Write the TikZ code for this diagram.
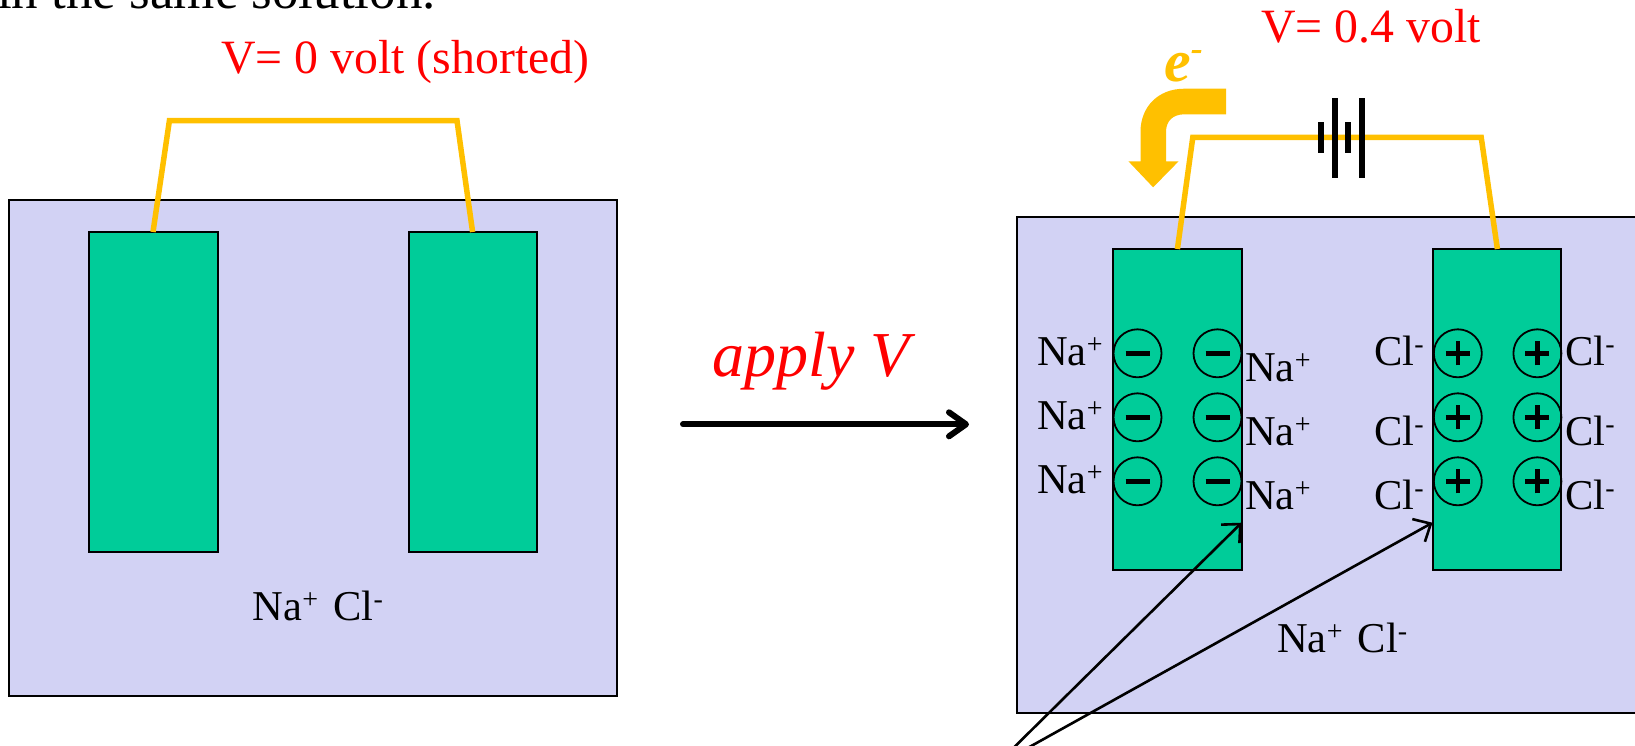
\documentclass[tikz,border=0pt]{standalone}
\usepackage{fontspec}
\setmainfont{Liberation Serif}
\usetikzlibrary{arrows.meta}
\definecolor{soln}{HTML}{D2D2F4}
\definecolor{elec}{HTML}{00CC99}
\definecolor{wirec}{HTML}{FFC000}
\newcommand{\ionNa}{Na\raisebox{12pt}{\fontsize{28}{30}\selectfont +}}
\newcommand{\ionCl}{Cl\raisebox{12pt}{\fontsize{28}{30}\selectfont -}}
\tikzset{
  boxsoln/.style={draw=black,fill=soln,line width=2pt},
  boxelec/.style={draw=black,fill=elec,line width=2pt},
  wire/.style={draw=wirec,line width=5.5pt,line join=miter},
  batt/.style={fill=black,draw=none},
  redtext/.style={text=red,anchor=base west,inner sep=0pt,font=\fontsize{47.8}{50}\selectfont},
  ion/.style={anchor=base west,inner sep=0pt,font=\fontsize{42.5}{44}\selectfont},
  negdisc/.style={circle,draw=black,line width=1.8pt,minimum size=48pt,inner sep=0pt,
    path picture={\draw[line width=4.5pt] ([xshift=-12pt]path picture bounding box.center) -- ([xshift=12pt]path picture bounding box.center);}},
  posdisc/.style={circle,draw=black,line width=1.8pt,minimum size=48pt,inner sep=0pt,
    path picture={\draw[line width=4.5pt] ([xshift=-12pt]path picture bounding box.center) -- ([xshift=12pt]path picture bounding box.center);
      \draw[line width=4.5pt] ([yshift=-12pt]path picture bounding box.center) -- ([yshift=12pt]path picture bounding box.center);}},
  pointer/.style={draw=black,line width=2.6pt,-{Straight Barb[length=14pt,width=26pt,line width=2.6pt]}},
  bigarrow/.style={draw=black,line width=6pt,line cap=round,-{Straight Barb[round,length=17pt,width=24pt,line width=6pt]}}
}
\begin{document}
\begin{tikzpicture}[x=1pt,y=-1pt]
\useasboundingbox (0,0) rectangle (1635,745);
\clip (0,0) rectangle (1635,745);
\node[anchor=base west,inner sep=0pt,font=\fontsize{53}{56}\selectfont] (head) at (-3,8) {in the same solution.};
% left cell
\path[boxsoln] (9.4,200) rectangle (617,696);
\coordinate (lfoot) at (153,232);
\coordinate (ltopa) at (169.4,120.7);
\coordinate (ltopb) at (457,120.7);
\coordinate (rfoot) at (472.6,232);
\path[boxelec] (89,232) rectangle (217.5,552);
\path[boxelec] (409.4,232) rectangle (537,552);
\draw[wire] (lfoot) -- (ltopa) -- (ltopb) -- (rfoot);
\node[redtext] (vzero) at (221,73.2) {V= 0 volt (shorted)};
\node[ion] (saltl) at (252.7,620.5) {\ionNa\hspace{4.5pt} \ionCl};
% middle
\node[anchor=base west,inner sep=0pt,text=red,font=\fontsize{64}{68}\selectfont\itshape] (apply) at (712,376.5) {apply V};
\coordinate (ma) at (683,424.3);
\coordinate (mb) at (969,424.3);
\draw[bigarrow] (ma) -- (mb);
% right cell
\path[boxsoln] (1017,217.3) rectangle (1650,713.3);
\path[boxelec] (1113.4,249) rectangle (1241.5,570);
\path[boxelec] (1433.4,249) rectangle (1561.3,570);
\coordinate (r1) at (1177.4,249);
\coordinate (r2) at (1192.8,137.3);
\coordinate (r3) at (1481.2,137.3);
\coordinate (r4) at (1497.4,249);
\draw[wire] (r1) -- (r2) -- (r3) -- (r4);
\foreach \n/\bx/\by/\bh in {b1/1321.2/121.7/31.6,b2/1335/97.7/80,b3/1348.3/121.7/31.6,b4/1362/97.7/80}
  \path[batt] (\bx-3,\by) rectangle ++(6,\bh);
\node[redtext] (vfour) at (1261,42.8) {V= 0.4 volt};
\node[anchor=base west,inner sep=0pt,text=wirec,font=\fontsize{60}{62}\selectfont\bfseries\itshape] (elab) at (1164,81.7) {e\raisebox{21pt}{\fontsize{36}{38}\selectfont -}};
\fill[wirec] (1226,88.7) -- (1184.3,88.7) .. controls (1158,88.7) and (1140.5,107) .. (1140.5,131.7)
  -- (1140.5,161.3) -- (1128.4,161.3) -- (1153.1,187.3) -- (1178.6,161.3) -- (1166,161.3) -- (1166,131.7)
  .. controls (1166,121) and (1173,114.3) .. (1184.3,114.3) -- (1226,114.3) -- cycle;
\foreach \col/\cx in {a/1137.5,b/1217.5}
  \foreach \row/\cy in {1/353.3,2/417.3,3/481.3}
    \node[negdisc] (n\col\row) at (\cx,\cy) {};
\foreach \col/\cx in {a/1457.8,b/1537.4}
  \foreach \row/\cy in {1/353.3,2/417.3,3/481.3}
    \node[posdisc] (p\col\row) at (\cx,\cy) {};
\foreach \i/\y in {1/365,2/429,3/493}
  \node[ion] (nal\i) at (1037,\y) {\ionNa};
\foreach \i/\y in {1/381,2/445,3/509}
  \node[ion] (nar\i) at (1245,\y) {\ionNa};
\foreach \i/\y in {1/365,2/445,3/509} {
  \node[ion] (cll\i) at (1374,\y) {\ionCl};
  \node[ion] (clr\i) at (1565,\y) {\ionCl};
}
\node[ion] (saltr) at (1277,652.7) {\ionNa\hspace{4.5pt} \ionCl};
\coordinate (tipa) at (1241.6,522.7);
\coordinate (tipb) at (1432.5,522.7);
\coordinate (taila) at (1001.2,760);
\coordinate (tailb) at (1006,760);
\draw[pointer] (taila) -- (tipa);
\draw[pointer] (tailb) -- (tipb);
\end{tikzpicture}
\end{document}
